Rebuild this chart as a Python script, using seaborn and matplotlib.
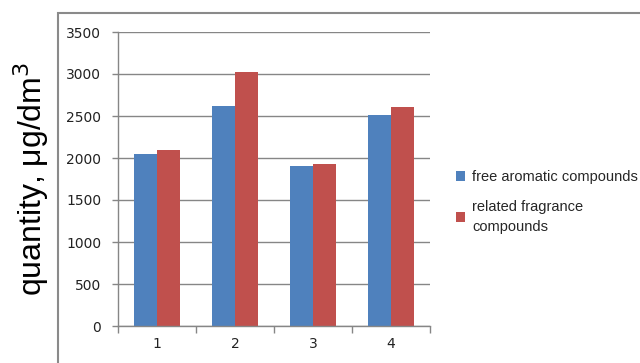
import matplotlib
matplotlib.use("Agg")
import matplotlib.pyplot as plt
import seaborn as sns
import pandas as pd
from matplotlib.patches import Rectangle, Patch

categories = ["1", "2", "3", "4"]
free_aromatic = [2045, 2625, 1905, 2510]
related_fragrance = [2090, 3020, 1925, 2605]
series_names = ["free aromatic compounds", "related fragrance\ncompounds"]
colors = ["#4F81BD", "#C0504D"]
yticks = [0, 500, 1000, 1500, 2000, 2500, 3000, 3500]

df = pd.DataFrame({
    "cat": categories * 2,
    "value": free_aromatic + related_fragrance,
    "series": [series_names[0]] * 4 + [series_names[1]] * 4,
})

sns.set_theme(style="white")
plt.rcParams["font.family"] = ["Liberation Sans", "DejaVu Sans"]

fig = plt.figure(figsize=(6.4, 3.63), dpi=100)
ax = fig.add_axes([118/640, 1-326/363, 312/640, 294/363])

sns.barplot(data=df, x="cat", y="value", hue="series", palette=colors,
            width=0.58, ax=ax, saturation=1, linewidth=0, legend=False)

ax.set_ylim(0, 3500)
ax.set_yticks(yticks)
ax.set_yticklabels([str(t) for t in yticks], fontsize=10, color="#222222", family="DejaVu Sans")
ax.set_xlim(-0.5, 3.5)
ax.set_xticks([-0.5, 0.5, 1.5, 2.5, 3.5])
ax.set_xticklabels([])
ax.set_xticks([0, 1, 2, 3], minor=True)
ax.set_xticklabels(categories, minor=True, fontsize=10, color="#222222", family="DejaVu Sans")
ax.tick_params(axis="x", which="major", direction="out", length=5, color="#868686", width=1, bottom=True)
ax.tick_params(axis="x", which="minor", length=0, pad=8)
ax.tick_params(axis="y", direction="out", length=4, color="#868686", width=1, left=True, pad=8)
ax.set_xlabel("")
ax.yaxis.grid(True, color="#868686", linewidth=1)
ax.set_axisbelow(True)
for s in ["top", "right"]:
    ax.spines[s].set_visible(False)
for s in ["left", "bottom"]:
    ax.spines[s].set_color("#868686")
    ax.spines[s].set_linewidth(1)

ax.set_ylabel("quantity, μg/dm$^3$", fontsize=23, color="black")
ax.yaxis.set_label_coords(-0.215, 0.5)

top = 1 - 13/363
fig.patches.append(Rectangle((58/640, -0.2), 1.2, top + 0.2, transform=fig.transFigure,
                             fill=False, edgecolor="#8a8a8a", linewidth=1.5))

handles = [Patch(facecolor=c, edgecolor="none") for c in colors]
leg = fig.legend(handles, series_names, loc="upper left", bbox_to_anchor=(456/640, 1-170/363),
                 frameon=False, fontsize=10.5, handlelength=0.65, handleheight=0.65,
                 handletextpad=0.45, labelspacing=1.1, borderaxespad=0, borderpad=0)
for t in leg.get_texts():
    t.set_linespacing(1.5)

fig.savefig("out.png", dpi=100)
